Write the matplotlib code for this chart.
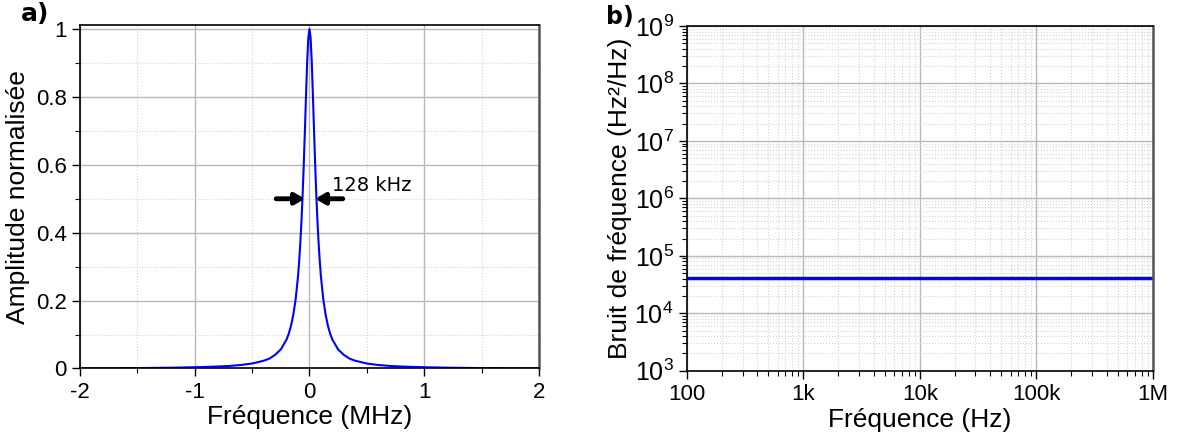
import numpy as np
import matplotlib
matplotlib.use('Agg')
import matplotlib.pyplot as plt
from matplotlib.ticker import MultipleLocator, LogLocator, NullFormatter

plt.rcParams['font.family'] = ['Liberation Sans', 'DejaVu Sans']
plt.rcParams['mathtext.default'] = 'regular'

# a) normalised line shape (MHz, a.u.)
freq_mhz = [-2.0, -1.5, -1.2, -1.0, -0.9, -0.8, -0.7, -0.6, -0.5, -0.4, -0.35, -0.3,
            -0.25, -0.2, -0.18, -0.16, -0.14, -0.12, -0.1, -0.09, -0.08, -0.07,
            -0.06, -0.05, -0.04, -0.03, -0.02, -0.01, 0.0,
            0.01, 0.02, 0.03, 0.04, 0.05, 0.06, 0.07, 0.08, 0.09, 0.1, 0.12,
            0.14, 0.16, 0.18, 0.2, 0.25, 0.3, 0.35, 0.4, 0.5, 0.6, 0.7, 0.8,
            0.9, 1.0, 1.2, 1.5, 2.0]
amplitude = [0.0005, 0.0012, 0.0023, 0.0037, 0.0046, 0.0058, 0.0075, 0.0102, 0.0147,
             0.0227, 0.029, 0.040, 0.056, 0.085, 0.103, 0.127, 0.160, 0.205, 0.271,
             0.315, 0.368, 0.432, 0.508, 0.598, 0.699, 0.805, 0.903, 0.974, 1.0,
             0.974, 0.903, 0.805, 0.699, 0.598, 0.508, 0.432, 0.368, 0.315, 0.271,
             0.205, 0.160, 0.127, 0.103, 0.085, 0.056, 0.040, 0.029, 0.0227, 0.0147,
             0.0102, 0.0075, 0.0058, 0.0046, 0.0037, 0.0023, 0.0012, 0.0005]
xticks_a = [-2, -1, 0, 1, 2]
xlabels_a = ['-2', '-1', '0', '1', '2']
yticks_a = [0, 0.2, 0.4, 0.6, 0.8, 1]
ylabels_a = ['0', '0.2', '0.4', '0.6', '0.8', '1']

# b) frequency noise spectrum (Hz, Hz^2/Hz)
freq_hz = [100, 1e6]
noise = [4.1e4, 4.1e4]
xticks_b = [1e2, 1e3, 1e4, 1e5, 1e6]
xlabels_b = ['100', '1k', '10k', '100k', '1M']
ydecades_b = [3, 4, 5, 6, 7, 8, 9]

fig = plt.figure(figsize=(11.85, 4.37), dpi=100)
ax1 = fig.add_axes([0.0675, 0.1568, 0.3873, 0.786])
ax2 = fig.add_axes([0.5797, 0.1517, 0.3932, 0.7888])

def style(ax):
    ax.grid(True, which='major', color='#b8b8b8', lw=1.0, ls='-')
    ax.grid(True, which='minor', color='#d4d4d4', lw=0.8, ls=':')
    ax.set_axisbelow(True)
    ax.tick_params(which='both', direction='out', top=False, right=False,
                   labelsize=16, color='black')
    ax.tick_params(which='major', length=6, width=1)
    ax.tick_params(which='minor', length=3.5, width=0.8)
    for s in ['left', 'bottom', 'top']:
        ax.spines[s].set_color('black')
        ax.spines[s].set_linewidth(1.2)
    ax.spines['right'].set_color('#555555')
    ax.spines['right'].set_linewidth(1.8)

# panel a
ax1.plot(freq_mhz, amplitude, color='#0000ff', lw=1.5)
ax1.set_xlim(-2, 2)
ax1.set_ylim(0, 1.012)
ax1.set_xticks(xticks_a)
ax1.set_xticklabels(xlabels_a)
ax1.set_yticks(yticks_a)
ax1.set_yticklabels(ylabels_a)
ax1.xaxis.set_minor_locator(MultipleLocator(0.5))
ax1.yaxis.set_minor_locator(MultipleLocator(0.1))
style(ax1)
ax1.set_xlabel('Fréquence (MHz)', fontsize=19, labelpad=2)
ax1.set_ylabel('Amplitude normalisée', fontsize=19, labelpad=4)

ax1.annotate('', xy=(-0.04, 0.5), xytext=(-0.29, 0.5),
             arrowprops=dict(arrowstyle='-|>,head_length=0.55,head_width=0.32',
                             color='black', lw=3.5, shrinkA=0, shrinkB=0))
ax1.annotate('', xy=(0.05, 0.5), xytext=(0.29, 0.5),
             arrowprops=dict(arrowstyle='-|>,head_length=0.55,head_width=0.32',
                             color='black', lw=3.5, shrinkA=0, shrinkB=0))
ax1.text(0.2, 0.54, '128 kHz', fontsize=14, family=['DejaVu Sans'],
         ha='left', va='center')

# panel b
ax2.plot(freq_hz, noise, color='#0000ff', lw=2.5)
ax2.set_xscale('log')
ax2.set_yscale('log')
ax2.set_xlim(1e2, 1e6)
ax2.set_ylim(1e3, 1e9)
ax2.set_xticks(xticks_b)
ax2.set_xticklabels(xlabels_b)
ax2.set_yticks([10.0 ** d for d in ydecades_b])
ax2.set_yticklabels([r'$10^{%d}$' % d for d in ydecades_b])
ax2.xaxis.set_minor_locator(LogLocator(base=10, subs=np.arange(2, 10), numticks=20))
ax2.yaxis.set_minor_locator(LogLocator(base=10, subs=np.arange(2, 10), numticks=20))
ax2.xaxis.set_minor_formatter(NullFormatter())
ax2.yaxis.set_minor_formatter(NullFormatter())
style(ax2)
ax2.tick_params(axis='y', which='major', labelsize=18)
ax2.set_xlabel('Fréquence (Hz)', fontsize=19, labelpad=2)
ax2.set_ylabel('Bruit de fréquence (Hz²/Hz)', fontsize=19, labelpad=2)

fig.text(0.0175, 0.968, 'a)', fontsize=18, fontweight='bold',
         family=['DejaVu Sans'], ha='left', va='center')
fig.text(0.5115, 0.961, 'b)', fontsize=17, fontweight='bold',
         family=['DejaVu Sans'], ha='left', va='center')

fig.savefig('out.png', dpi=100)
